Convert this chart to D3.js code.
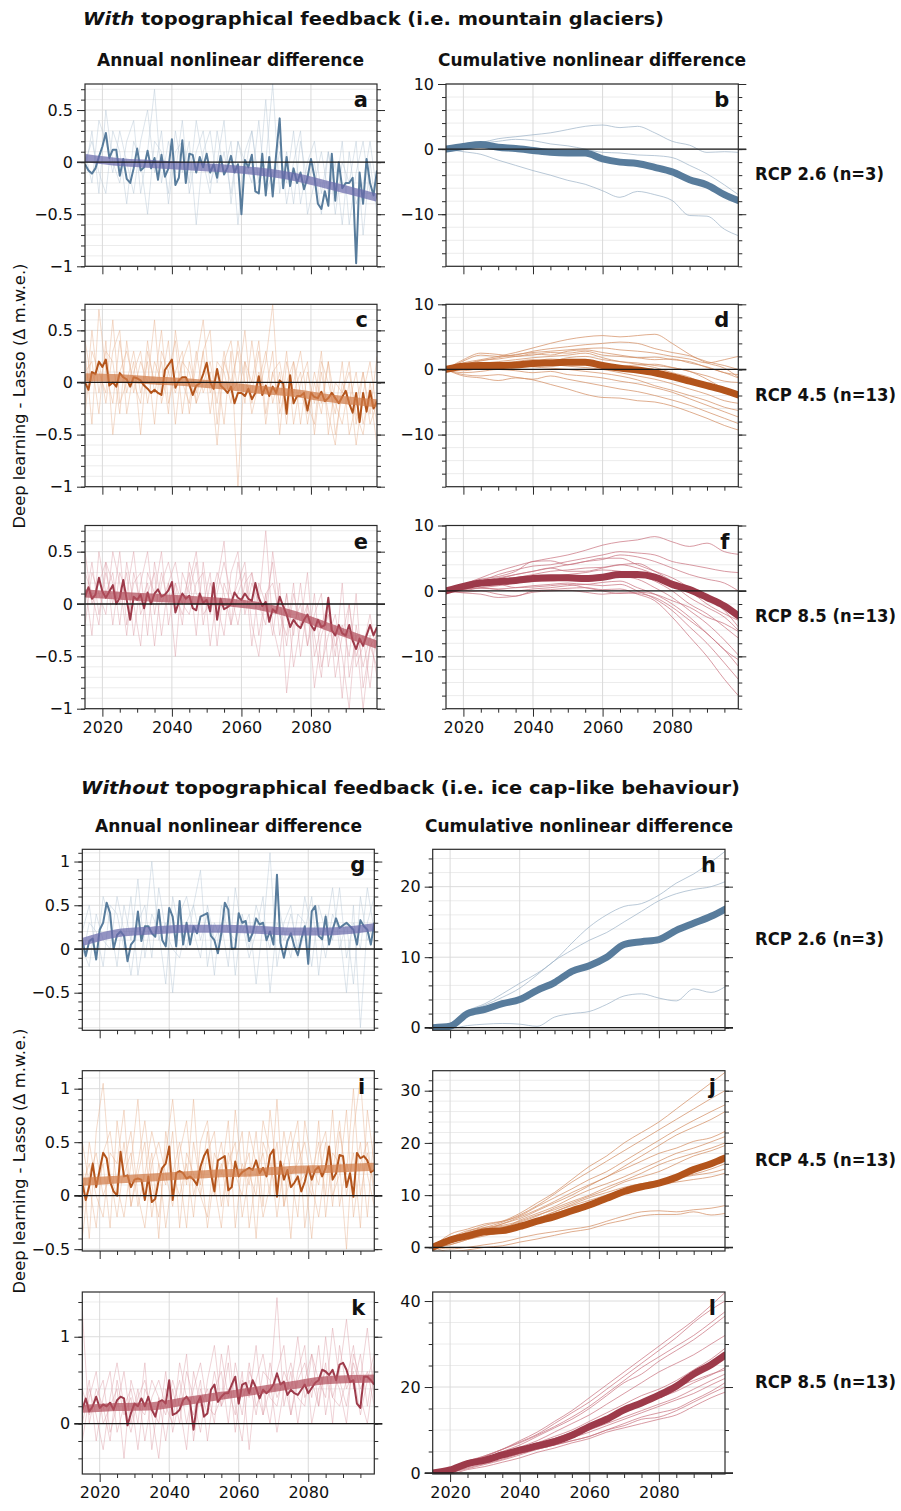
<!DOCTYPE html>
<html>
<head>
<meta charset="utf-8">
<script src="https://cdn.jsdelivr.net/npm/d3@7"></script>
<style>
  body { margin: 0; background: #fff; }
  text { font-family: "DejaVu Sans", "Liberation Sans", Arial, sans-serif; fill: #111; }
</style>
</head>
<body>
<div id="chart"></div>
<script>
// ---- years ----
const ANNUAL_YEARS = d3.range(2015, 2100)
const THIN_YEARS = d3.range(2015, 2100, 2)
const CUM_YEARS = [2015, 2020, 2025, 2030, 2035, 2040, 2045, 2050, 2055, 2060, 2065, 2070, 2075, 2080, 2085, 2090, 2095, 2099]
const TREND_YEARS = [2015, 2025, 2035, 2045, 2055, 2065, 2075, 2085, 2099]
const X_MAJOR = [2020, 2040, 2060, 2080]
const X_MINOR = [2025, 2030, 2035, 2045, 2050, 2055, 2065, 2070, 2075, 2085, 2090, 2095]

// ---- With topographical feedback: annual (ensemble mean, trend, members) ----
const aMain = [-0.02,-0.08,-0.11,-0.06,0.05,0.15,0.28,0.04,0.12,0.12,
  -0.13,0.03,-0.16,-0.2,-0.06,0.13,-0.08,-0.05,0.11,-0.06,
  0.04,-0.17,0.07,-0.14,-0.06,0.22,-0.22,-0.15,0.21,-0.2,
  0.08,0.07,-0.1,0.05,-0.05,0.08,-0.1,-0.02,-0.15,0.06,
  -0.12,-0.05,0.06,-0.1,-0.02,-0.5,0.02,-0.05,0.07,-0.28,
  -0.3,0.08,-0.32,0.05,-0.33,0.08,0.42,-0.25,0.05,-0.23,
  -0.06,-0.2,-0.1,-0.26,-0.15,0.03,-0.14,-0.4,-0.45,-0.28,
  -0.42,0.08,-0.37,0.0,-0.25,-0.2,-0.2,-0.15,-0.97,-0.1,
  -0.4,0.03,-0.2,-0.32,-0.08]
const aTrend = [0.04, 0.0, -0.02, -0.04, -0.06, -0.09, -0.14, -0.22, -0.34]
const aThin = [
  [0.1,-0.2,0.4,0.2,-0.1,0.3,0.0,-0.3,0.2,0.5,-0.1,0.3,-0.4,0.1,0.2,-0.2,0.4,0.0,-0.3,0.3,-0.1,0.2,-0.6,0.1,0.3,-0.2,0.0,0.75,-0.3,0.1,-0.4,0.2,-0.2,0.0,-0.5,0.1,-0.3,0.2,-0.6,-0.1,0.2,-0.3,-0.4],
  [-0.1,0.3,-0.3,0.5,0.0,-0.2,0.2,0.4,-0.3,0.1,0.7,-0.2,0.2,-0.1,0.4,-0.3,0.1,0.3,-0.2,0.0,0.4,-0.4,0.2,-0.1,0.3,-0.2,0.6,-0.3,0.1,-0.2,0.3,-0.4,0.0,0.2,-0.3,0.1,-0.5,0.0,-0.2,0.2,-0.7,0.0,-0.5],
  [0.0,0.2,-0.1,-0.3,0.3,0.1,-0.4,0.2,0.0,-0.5,0.2,0.1,-0.3,0.3,-0.1,0.2,-0.6,0.1,0.3,-0.2,0.1,-0.3,0.2,0.0,-0.2,0.4,-0.3,-0.1,0.2,-0.4,0.0,0.3,-0.5,-0.2,0.1,-0.3,0.0,-0.6,0.1,-0.4,-0.2,0.2,-0.3]
]

const cMain = [0.0,-0.07,0.1,0.08,0.2,0.15,0.22,-0.03,0.0,-0.04,
  0.09,0.05,0.03,-0.04,0.05,0.04,0.02,-0.03,-0.06,-0.1,
  -0.07,-0.1,-0.12,0.12,0.17,0.22,-0.05,0.02,0.05,0.05,
  -0.02,-0.12,-0.03,-0.01,0.08,0.19,0.0,-0.06,0.13,-0.03,
  -0.06,-0.1,-0.04,-0.2,-0.1,-0.1,-0.13,-0.06,-0.16,-0.1,
  0.06,-0.12,-0.03,-0.13,-0.04,-0.1,0.02,-0.01,-0.3,0.07,
  -0.2,-0.13,-0.13,-0.1,-0.27,-0.1,-0.14,-0.15,-0.09,-0.18,
  -0.15,-0.1,-0.15,-0.2,-0.14,-0.08,-0.2,-0.29,-0.1,-0.38,
  -0.1,-0.28,-0.08,-0.25,-0.18]
const cTrend = [0.05, 0.04, 0.02, 0.0, -0.03, -0.07, -0.1, -0.15, -0.2]
const cThin = [
  [0.3,-0.4,0.7,0.1,-0.2,0.4,-0.1,0.2,-0.5,0.3,0.0,0.5,-0.2,0.1,0.3,-0.3,0.2,0.6,-0.1,0.1,-0.4,0.3,-1.0,0.2,0.0,0.4,-0.3,0.1,-0.2,0.3,-0.4,0.0,0.2,-0.5,0.1,-0.3,-0.6,0.0,-0.2,0.1,-0.4,-0.1,-0.6],
  [-0.2,0.5,-0.1,0.3,0.2,-0.3,0.4,-0.1,0.2,0.0,0.6,-0.2,0.1,0.4,-0.3,0.2,-0.1,0.3,0.5,-0.4,0.2,0.0,0.3,-0.2,0.4,-0.1,0.2,0.75,-0.3,0.0,0.2,-0.4,0.1,-0.2,0.3,-0.5,0.0,-0.1,0.2,-0.4,0.1,-0.3,0.25],
  [0.1,0.2,-0.3,0.4,-0.5,0.1,0.3,0.0,-0.2,0.4,-0.1,0.2,-0.3,0.5,0.0,-0.2,0.3,-0.1,0.1,-0.6,0.2,0.4,-0.1,0.2,-0.3,0.0,0.3,-0.2,0.1,-0.4,0.2,-0.1,-0.3,0.1,-0.2,0.2,-0.5,-0.1,0.1,-0.3,-0.5,0.0,-0.4],
  [0.4,0.0,0.2,-0.2,0.3,0.5,-0.3,0.1,0.3,-0.2,0.2,0.0,0.4,-0.4,0.2,0.1,-0.2,0.3,-0.3,0.2,0.1,-0.2,0.4,0.0,-0.1,0.3,-0.4,0.1,0.2,-0.2,0.0,0.3,-0.2,-0.4,0.2,0.0,-0.3,0.2,-0.5,-0.2,0.1,-0.4,-0.2],
  [-0.3,0.3,0.1,-0.1,0.6,-0.2,0.0,0.3,-0.1,0.2,-0.4,0.3,0.1,-0.1,0.2,0.4,-0.2,0.0,0.2,-0.2,0.3,-0.1,0.0,0.5,-0.2,0.1,-0.1,0.3,-0.5,0.2,-0.1,0.1,-0.4,0.0,-0.3,0.2,-0.2,-0.4,0.0,-0.6,-0.1,0.2,-0.3]
]

const eMain = [0.07,0.16,0.05,0.09,0.25,0.12,0.06,0.12,0.18,0.0,
  0.06,0.23,0.04,-0.15,0.07,0.04,0.09,-0.04,0.11,0.0,
  0.1,0.14,0.07,0.09,0.13,0.21,-0.08,0.02,0.1,0.05,
  0.08,-0.04,-0.06,0.1,0.01,0.04,-0.07,0.2,-0.15,0.05,
  -0.05,-0.03,0.0,0.11,0.06,0.04,0.1,0.05,0.03,0.2,
  0.06,-0.02,0.02,-0.17,-0.05,-0.08,0.07,-0.02,-0.1,-0.22,
  -0.15,-0.2,-0.23,-0.15,-0.1,-0.2,-0.25,-0.15,-0.22,-0.2,
  0.06,-0.25,-0.3,-0.2,-0.28,-0.3,-0.2,-0.35,-0.43,-0.33,
  -0.4,-0.3,-0.2,-0.3,-0.22]
const eTrend = [0.1, 0.08, 0.06, 0.04, 0.02, -0.02, -0.1, -0.22, -0.39]
const eThin = [
  [0.2,-0.3,0.5,0.1,0.3,-0.2,0.4,0.0,-0.4,0.3,0.1,0.5,-0.2,0.2,0.0,0.3,-0.3,0.4,-0.1,0.2,0.6,-0.2,0.1,0.3,-0.4,0.2,0.0,0.4,-0.3,0.1,-0.6,-0.2,0.0,-0.8,-0.3,-0.1,-0.5,0.2,-0.7,-0.3,-1.0,-0.4,-0.6],
  [0.0,0.4,-0.1,0.3,0.0,0.5,-0.2,0.2,0.3,-0.3,0.4,0.0,0.2,-0.5,0.3,0.1,0.4,-0.2,0.2,0.0,-0.3,0.3,0.5,-0.1,0.2,0.0,0.7,-0.2,-0.5,0.1,-0.3,0.2,-0.4,-0.1,0.1,-0.6,-0.2,-0.9,0.0,-0.5,-0.3,-0.8,-0.2],
  [0.3,0.1,-0.2,0.4,0.2,0.0,0.3,-0.3,0.2,0.5,-0.1,0.3,0.0,0.2,-0.2,0.4,0.1,0.0,0.3,-0.4,0.2,0.0,0.2,0.4,-0.2,-0.5,0.1,-0.3,0.2,-0.85,-0.2,0.0,-0.4,0.1,-0.6,-0.3,-0.1,-0.5,-1.0,-0.2,-0.6,-0.3,-0.7],
  [-0.2,0.3,0.1,-0.1,0.5,0.2,-0.3,0.3,0.0,0.2,-0.4,0.2,0.4,0.1,-0.1,0.2,0.5,-0.1,0.0,0.3,0.1,-0.2,0.4,0.0,0.3,-0.3,0.1,0.2,-0.1,-0.3,0.2,-0.5,0.0,-0.3,-0.7,0.0,-0.4,-0.2,-0.5,0.1,-0.8,-0.4,-0.3],
  [0.5,0.0,0.2,0.4,-0.2,0.3,0.1,0.5,-0.1,0.1,0.3,-0.3,0.2,0.4,0.0,-0.1,0.2,0.3,-0.4,0.1,0.4,0.1,-0.2,0.2,0.3,0.0,-0.2,0.5,0.0,-0.4,0.1,-0.2,0.3,-0.5,-0.2,0.0,-0.7,-0.3,0.0,-0.6,-0.4,-0.1,-0.5]
]

// ---- With topographical feedback: cumulative ----
const bMain = [0, 0.4, 0.7, 0.3, 0.1, -0.2, -0.5, -0.6, -0.6, -1.5, -2.0, -2.2, -2.8, -3.5, -4.7, -5.5, -7.0, -7.9]
const bThin = [
  [0, 0.8, 1.0, 1.6, 1.9, 2.2, 2.5, 3.0, 3.5, 3.7, 3.3, 3.5, 2.5, 1.2, 0.6, -0.5, -0.4, -0.5],
  [0, 0.6, 0.9, 1.2, 1.5, 1.3, 0.8, 0.5, 0.0, -0.5, -0.6, -0.9, -1.0, -1.3, -2.5, -3.8, -5.5, -7.0],
  [0, -0.4, -0.8, -1.7, -2.5, -3.3, -4.0, -4.8, -5.4, -6.4, -7.4, -6.5, -7.0, -7.9, -10.2, -10.3, -12.3, -13.3]
]
const dMain = [0, 0.5, 0.6, 0.6, 0.7, 0.9, 1.0, 1.1, 1.1, 0.6, 0.2, -0.1, -0.5, -1.1, -1.8, -2.5, -3.2, -3.9]
const dThin = [
  [0, 1.0, 1.5, 2.0, 2.6, 3.3, 4.0, 4.6, 5.0, 5.2, 5.0, 5.2, 5.4, 4.0, 2.3, 1.0, 0.2, -1.2],
  [0, 1.3, 2.2, 2.0, 2.2, 2.8, 3.2, 3.5, 3.8, 4.0, 4.2, 4.0, 3.2, 2.6, 2.1, 1.2, 0.6, 0.0],
  [0, 0.8, 1.3, 1.8, 2.3, 2.6, 2.8, 3.0, 3.2, 3.3, 3.0, 2.8, 2.5, 2.0, 1.6, 1.0, 1.5, 2.0],
  [0, 0.6, 1.4, 1.6, 2.0, 2.2, 2.6, 2.5, 2.8, 2.2, 2.0, 1.8, 1.9, 1.5, 1.2, 0.3, -0.5, -1.3],
  [0, 0.4, 0.9, 1.2, 1.5, 1.8, 2.0, 2.2, 2.5, 1.8, 1.2, 1.0, 0.6, 0.3, -0.3, -1.0, -1.8, -2.0],
  [0, 0.2, 0.6, 0.8, 1.2, 1.5, 1.3, 1.8, 2.0, 1.5, 1.2, 0.8, 0.3, -0.5, -1.2, -2.5, -3.5, -4.3],
  [0, 0.3, 0.5, 0.8, 1.0, 1.0, 0.8, 0.5, 0.3, 0.0, -0.5, -1.0, -1.5, -2.2, -3.0, -3.8, -4.8, -5.2],
  [0, -0.2, 0.2, 0.5, 0.8, 0.4, 0.2, 0.0, -0.3, -0.6, -1.0, -1.6, -2.5, -3.2, -4.0, -4.8, -5.8, -6.3],
  [0, -0.5, -0.3, 0.0, -0.2, -0.5, -0.3, -0.8, -1.0, -1.3, -1.8, -2.2, -2.8, -3.5, -4.5, -5.5, -6.5, -7.3],
  [0, -0.8, -1.0, -0.8, -1.2, -1.5, -1.0, -1.5, -2.0, -2.5, -3.0, -3.4, -4.0, -4.7, -5.5, -6.5, -7.5, -8.3],
  [0, -1.0, -1.3, -1.7, -1.3, -1.6, -2.3, -3.0, -3.8, -4.3, -4.4, -4.8, -5.0, -5.6, -6.5, -7.5, -8.6, -9.3],
  [0, 0.5, 0.8, 1.0, 0.8, 1.2, 1.6, 1.4, 1.0, 0.8, 0.5, 0.7, 0.8, 0.3, -0.3, -1.5, -3.0, -4.0],
  [0, 1.5, 2.5, 2.3, 2.0, 2.4, 2.2, 2.8, 3.0, 2.6, 2.2, 1.8, 1.5, 1.6, 1.0, 0.4, -0.5, -0.8]
]
const fMain = [0, 0.7, 1.2, 1.4, 1.6, 1.9, 2.0, 2.0, 1.9, 2.1, 2.5, 2.5, 2.1, 1.0, 0.2, -1.0, -2.3, -3.8]
const fThin = [
  [0, 1.0, 2.0, 3.0, 3.8, 4.5, 5.0, 5.5, 6.2, 7.0, 7.5, 7.8, 8.3, 7.5, 6.8, 7.3, 6.0, 5.6],
  [0, 0.8, 1.5, 2.5, 3.2, 3.8, 4.0, 4.5, 5.0, 5.5, 6.0, 5.8, 5.5, 4.5, 4.0, 3.5, 3.0, 2.8],
  [0, 1.0, 1.8, 2.2, 3.0, 4.5, 4.6, 4.0, 4.5, 4.8, 5.5, 5.2, 4.5, 3.5, 2.5, 1.8, 1.2, 0.0],
  [0, 0.5, 1.0, 1.8, 2.5, 3.0, 3.5, 4.0, 4.5, 5.0, 5.0, 4.0, 3.0, 2.0, 0.5, -1.0, -3.0, -5.5],
  [0, 0.6, 1.2, 1.5, 2.0, 2.5, 3.0, 3.2, 3.5, 3.6, 4.0, 3.5, 2.5, 1.0, -1.0, -2.5, -4.0, -6.0],
  [0, 0.4, 0.8, 1.2, 1.5, 2.0, 2.2, 2.5, 2.8, 3.2, 3.0, 2.5, 1.5, 0.0, -2.0, -3.5, -5.5, -7.2],
  [0, 0.3, 0.5, 0.8, 1.2, 1.5, 1.5, 1.8, 2.0, 2.0, 2.2, 1.8, 0.5, -1.0, -3.0, -5.0, -7.5, -9.8],
  [0, 0.2, 0.4, 0.3, 0.5, 0.8, 1.0, 1.2, 1.0, 1.3, 1.5, 0.5, -0.5, -2.0, -4.0, -6.5, -9.0, -11.5],
  [0, 0.0, 0.5, 0.2, 0.0, 0.3, 0.5, 0.8, 1.0, 0.8, 1.0, 0.0, -1.2, -3.0, -5.5, -8.0, -11.0, -13.5],
  [0, -0.2, 0.0, -0.5, -0.8, 0.0, 0.2, 0.4, 0.5, 0.2, 0.3, -0.5, -1.5, -4.0, -7.0, -10.0, -13.5, -16.0],
  [0, 0.5, 0.8, 1.0, 0.5, 0.6, 0.8, 1.0, 0.5, 0.0, -0.4, -0.2, -0.5, -1.5, -2.5, -4.0, -5.0, -6.2],
  [0, 0.8, 1.5, 2.0, 2.5, 3.0, 3.5, 3.0, 3.0, 3.5, 4.0, 4.2, 3.0, 1.5, 0.0, -2.0, -3.5, -4.5],
  [0, -0.3, -0.5, -1.0, -0.8, -0.2, 0.0, 0.1, -0.2, -0.5, -0.3, -0.4, -1.0, -2.5, -4.5, -6.5, -9.0, -10.5]
]

// ---- Without topographical feedback: annual ----
const gMain = [0.1,-0.08,0.09,0.12,-0.12,0.22,0.3,0.53,0.41,0.0,
  0.16,0.2,0.15,-0.14,0.05,0.1,0.43,0.09,0.26,0.26,
  0.18,0.14,0.45,0.1,0.03,0.47,0.37,0.03,0.55,0.05,
  0.3,0.05,0.26,0.18,0.37,0.39,0.41,0.15,0.1,-0.05,
  0.18,0.53,0.45,0.0,0.01,0.41,0.3,0.32,0.09,0.18,
  0.35,0.28,0.3,0.1,0.2,0.05,0.85,0.07,-0.1,0.09,
  0.18,0.03,-0.07,0.11,0.26,-0.17,0.43,0.49,0.15,0.11,
  0.37,0.05,0.22,0.35,0.24,0.27,0.3,0.26,0.22,0.05,
  0.33,0.26,0.22,0.05,0.3]
const gTrend = [0.08, 0.18, 0.21, 0.23, 0.23, 0.22, 0.2, 0.2, 0.25]
const gThin = [
  [0.2,0.5,-0.1,0.6,0.3,-0.2,0.5,0.1,0.8,-0.1,0.4,0.2,-0.4,0.6,0.2,0.0,0.5,0.9,-0.2,0.3,0.1,0.6,-0.3,0.4,0.0,0.5,0.2,1.1,-0.2,0.3,0.5,-0.1,0.2,0.6,-0.3,0.4,0.1,0.7,-0.1,0.3,0.0,0.7,0.2],
  [-0.1,0.3,0.2,-0.2,0.5,0.4,0.0,0.6,-0.3,0.2,1.0,0.1,0.3,-0.5,0.4,0.6,0.2,-0.1,0.5,0.1,0.3,-0.2,0.7,0.2,0.4,-0.4,0.3,0.0,0.6,0.2,-0.1,0.4,0.3,-0.2,0.5,0.2,0.7,0.0,0.3,-0.4,0.6,0.1,0.3],
  [0.0,-0.2,0.4,0.1,0.0,0.6,0.2,-0.3,0.3,0.5,-0.1,0.7,0.2,0.0,-0.1,0.3,0.5,0.1,0.4,-0.3,0.5,0.2,0.1,0.3,-0.1,0.2,0.6,-0.5,0.3,0.1,0.4,0.0,0.6,0.2,0.3,-0.1,0.4,0.2,-0.5,0.5,-0.9,0.3,0.6]
]

const iMain = [0.12,-0.04,0.09,0.3,0.08,0.24,0.4,0.35,0.13,0.04,
  0.0,0.41,0.18,0.19,0.08,0.15,0.16,0.15,-0.04,0.18,
  -0.06,-0.03,0.15,0.26,0.3,0.46,-0.04,0.21,0.23,0.21,
  0.16,0.18,0.15,0.1,0.27,0.37,0.43,0.21,0.04,0.33,
  0.35,0.37,0.05,0.08,0.32,0.18,0.22,0.24,0.26,0.24,
  0.33,0.21,0.26,0.18,0.38,0.43,-0.01,0.32,0.15,0.24,
  0.08,0.12,0.18,0.04,0.13,0.27,0.15,0.24,0.27,0.18,
  0.26,0.46,0.15,0.21,0.38,0.37,0.08,0.21,-0.01,0.4,
  0.35,0.37,0.33,0.22,0.24]
const iTrend = [0.13, 0.15, 0.17, 0.19, 0.21, 0.22, 0.24, 0.25, 0.27]
const iThin = [
  [0.3,-0.4,0.6,1.05,0.2,0.0,0.5,-0.1,0.3,0.7,0.1,-0.2,0.4,0.9,0.2,-0.3,0.5,0.1,0.6,0.0,0.3,-0.1,0.8,0.2,0.4,-0.4,0.5,0.3,0.0,0.6,0.2,-0.2,0.7,0.3,0.1,0.5,-0.1,0.6,0.2,1.0,0.0,0.4,0.1],
  [-0.2,0.5,0.1,0.3,-0.3,0.7,0.2,0.4,-0.1,0.2,0.6,0.3,-0.3,0.2,0.5,0.1,0.9,0.0,-0.2,0.4,0.2,0.7,-0.3,0.3,0.1,0.6,-0.1,0.8,0.2,0.3,-0.4,0.5,0.2,0.0,0.7,-0.2,0.4,0.3,-0.5,0.6,1.1,0.2,-0.1],
  [0.5,0.1,-0.3,0.4,0.6,0.1,-0.2,0.3,0.9,0.0,0.4,-0.4,0.6,0.2,0.0,0.3,-0.2,0.5,0.7,0.1,-0.3,0.4,0.2,0.0,0.6,0.3,-0.2,0.1,0.5,-0.1,0.4,0.7,-0.3,0.2,0.5,0.0,0.8,-0.1,0.3,0.1,0.5,-0.2,0.6],
  [0.1,0.3,0.0,-0.2,0.4,0.3,0.8,-0.1,0.2,0.5,-0.2,0.3,0.1,0.6,-0.3,0.4,0.2,0.0,0.4,0.6,-0.1,0.3,0.5,-0.2,0.2,0.0,0.7,0.4,-0.2,0.3,0.6,0.1,0.2,-0.4,0.4,0.6,0.0,0.2,0.8,-0.2,0.3,0.5,0.0],
  [-0.4,0.2,0.4,0.0,0.2,-0.2,0.3,0.6,0.0,-0.3,0.3,0.5,0.2,-0.1,0.4,0.7,0.0,0.3,-0.3,0.2,0.5,0.0,0.3,0.6,-0.3,0.2,0.4,0.0,0.9,-0.1,0.2,0.3,0.5,0.1,-0.2,0.3,0.2,0.7,0.0,0.4,-0.3,0.8,0.3]
]

const kMain = [0.16,0.29,0.14,0.2,0.31,0.18,0.22,0.2,0.24,0.16,
  0.27,0.31,0.29,-0.02,0.12,0.23,0.2,0.29,0.2,0.31,
  0.16,0.08,0.25,0.27,0.23,0.5,0.1,0.12,0.16,0.27,
  0.31,0.25,-0.07,0.23,0.31,0.08,0.12,0.39,0.45,0.25,
  0.31,0.35,0.35,0.45,0.54,0.23,0.45,0.47,0.35,0.5,
  0.41,0.29,0.39,0.35,0.39,0.45,0.58,0.45,0.48,0.33,
  0.39,0.35,0.33,0.39,0.45,0.35,0.41,0.47,0.5,0.62,
  0.6,0.56,0.62,0.5,0.68,0.7,0.62,0.48,0.5,0.23,
  0.18,0.54,0.54,0.5,0.45]
const kTrend = [0.17, 0.19, 0.2, 0.26, 0.32, 0.38, 0.44, 0.5, 0.52]
const kThin = [
  [1.3,0.0,0.4,0.2,-0.2,0.5,0.1,0.3,-0.3,0.4,0.2,0.0,0.6,-0.1,0.3,0.8,-0.2,0.4,0.1,0.6,0.2,0.7,-0.1,0.5,0.3,0.9,0.1,0.4,1.45,0.2,0.6,0.0,0.5,0.8,0.2,1.0,0.3,0.6,1.2,0.4,0.8,0.2,0.7],
  [0.1,0.5,-0.2,0.3,0.6,-0.1,0.2,0.4,0.0,0.7,-0.3,0.3,0.1,0.5,0.2,-0.3,0.6,0.2,0.4,0.0,0.8,0.3,0.5,0.1,0.7,0.2,0.4,0.0,0.6,0.9,0.1,0.5,0.7,0.3,0.9,0.1,0.6,0.4,0.0,0.8,0.5,1.1,0.3],
  [-0.2,0.3,0.6,0.0,0.2,0.4,-0.4,0.5,0.2,0.1,0.5,0.3,-0.2,0.4,0.0,0.6,0.3,-0.1,0.5,0.9,0.2,0.4,0.1,0.6,-0.3,0.5,0.8,0.3,0.2,0.6,0.4,1.0,0.3,0.5,0.2,0.7,0.0,0.9,0.4,0.6,0.1,0.5,0.8],
  [0.4,0.1,0.3,0.5,-0.1,0.2,0.6,0.0,0.4,-0.2,0.3,0.5,0.2,0.0,0.7,0.3,0.1,0.5,-0.2,0.4,0.6,0.0,0.7,0.3,0.5,0.1,0.6,0.5,-0.1,0.4,0.7,0.3,0.2,0.8,0.5,0.3,1.1,0.5,0.2,0.7,0.4,0.6,0.2],
  [0.0,0.4,0.1,-0.3,0.3,0.7,0.2,-0.1,0.3,0.5,0.1,-0.4,0.4,0.2,0.5,0.0,0.4,0.7,0.2,0.1,0.3,0.9,0.2,-0.2,0.6,0.4,0.1,0.7,0.3,0.5,0.1,0.6,0.9,0.0,0.4,0.6,0.3,0.2,0.5,0.9,0.3,0.0,0.6]
]

// ---- Without topographical feedback: cumulative ----
const hMain = [0, 0.2, 2.0, 2.6, 3.4, 4.0, 5.3, 6.4, 8.0, 8.8, 10.0, 11.8, 12.2, 12.5, 13.8, 14.8, 15.8, 16.8]
const hThin = [
  [0, 0.6, 2.4, 3.4, 4.8, 6.3, 7.7, 9.5, 12.0, 14.3, 16.0, 17.2, 17.6, 18.8, 20.5, 21.8, 23.5, 25.0],
  [0, 0.6, 2.3, 3.2, 4.3, 5.6, 7.5, 9.5, 11.0, 12.4, 13.5, 15.0, 16.5, 18.0, 19.0, 19.6, 20.0, 20.7],
  [0, -0.1, 0.3, 0.5, 0.6, 0.5, 0.2, 1.5, 2.0, 2.3, 3.3, 4.5, 4.8, 4.2, 3.8, 5.5, 5.0, 5.8]
]
const jMain = [0, 1.4, 2.2, 3.0, 3.2, 4.0, 5.0, 5.9, 7.0, 8.1, 9.4, 10.7, 11.6, 12.3, 13.4, 14.9, 16.0, 17.1]
const jThin = [
  [0, 1.5, 3.0, 4.2, 5.0, 6.5, 8.5, 10.5, 13.0, 15.5, 17.5, 20.0, 22.0, 24.0, 26.5, 29.0, 31.5, 33.5],
  [0, 1.2, 2.8, 3.8, 4.8, 6.2, 8.0, 10.2, 12.5, 14.5, 16.5, 18.5, 20.5, 22.5, 24.5, 26.5, 28.5, 30.0],
  [0, 2.5, 3.5, 4.5, 5.0, 6.0, 7.8, 9.5, 11.2, 13.0, 14.5, 16.5, 18.5, 20.5, 22.5, 24.3, 26.0, 27.3],
  [0, 1.0, 2.3, 3.5, 4.5, 5.8, 7.2, 8.8, 10.5, 12.0, 13.5, 15.5, 17.5, 19.5, 21.5, 23.0, 24.5, 26.0],
  [0, 0.8, 2.0, 3.2, 4.5, 5.5, 7.0, 8.5, 10.0, 11.8, 13.5, 15.0, 16.5, 18.0, 19.0, 20.3, 21.0, 22.2],
  [0, 1.3, 2.5, 3.0, 3.5, 5.2, 6.5, 7.8, 9.5, 11.0, 12.2, 13.5, 15.0, 16.5, 18.0, 19.0, 20.2, 21.2],
  [0, 0.5, 1.5, 2.5, 3.8, 4.8, 6.0, 7.5, 8.8, 10.0, 11.5, 12.8, 14.2, 15.8, 17.0, 18.0, 19.0, 20.0],
  [0, 1.8, 3.2, 3.8, 4.2, 5.0, 6.2, 7.2, 8.5, 9.8, 11.0, 12.5, 13.5, 14.5, 16.0, 17.5, 18.5, 19.5],
  [0, 1.0, 2.0, 2.8, 3.5, 4.5, 5.2, 6.5, 7.5, 8.5, 9.8, 11.0, 11.8, 12.5, 13.3, 14.0, 15.0, 16.0],
  [0, 0.5, 1.5, 2.2, 3.0, 4.0, 5.5, 6.8, 8.2, 9.5, 10.5, 11.5, 12.2, 12.8, 13.2, 13.8, 14.3, 15.0],
  [0, 1.5, 2.8, 3.5, 4.0, 4.5, 5.5, 6.8, 8.0, 9.0, 10.0, 10.8, 11.5, 12.0, 12.5, 13.0, 13.5, 14.2],
  [0, -0.3, 0.0, 0.5, 1.0, 1.8, 2.5, 3.0, 3.5, 4.0, 5.0, 6.0, 6.8, 7.0, 6.8, 7.2, 7.5, 8.0],
  [0, -0.8, -0.5, 0.0, 0.3, 1.0, 1.6, 2.3, 3.0, 3.5, 4.5, 5.2, 6.0, 6.3, 6.3, 6.8, 6.2, 6.5]
]
const lMain = [0, 0.7, 2.2, 3.0, 4.2, 5.3, 6.3, 7.3, 8.8, 10.8, 12.5, 14.7, 16.3, 18.1, 20.2, 23.0, 25.2, 27.4]
const lThin = [
  [0, 1.0, 2.5, 4.0, 5.5, 7.5, 9.5, 12.0, 14.5, 17.5, 20.5, 23.5, 26.5, 29.5, 32.5, 35.5, 39.0, 42.0],
  [0, 0.8, 2.2, 3.8, 5.5, 7.2, 9.0, 11.5, 14.0, 16.5, 19.5, 22.5, 25.5, 28.5, 31.5, 35.0, 38.0, 40.0],
  [0, 1.2, 2.8, 4.0, 5.5, 7.0, 8.8, 10.8, 13.0, 15.5, 18.5, 21.5, 24.5, 27.0, 29.5, 32.0, 35.0, 37.5],
  [0, 0.6, 2.0, 3.5, 5.0, 6.5, 8.5, 10.5, 12.5, 15.0, 18.0, 21.0, 23.0, 26.0, 28.5, 31.0, 34.0, 36.5],
  [0, 0.5, 1.8, 3.2, 4.5, 6.0, 7.5, 9.5, 11.5, 13.5, 16.0, 18.5, 21.0, 23.5, 25.5, 27.5, 30.0, 32.0],
  [0, 1.0, 2.0, 3.0, 4.2, 5.5, 7.0, 8.5, 10.0, 12.0, 14.0, 16.0, 18.0, 19.5, 21.5, 24.0, 26.5, 29.0],
  [0, 0.4, 1.5, 2.5, 3.8, 5.0, 6.5, 8.0, 9.5, 11.0, 12.5, 14.5, 16.0, 17.5, 19.0, 21.0, 22.8, 24.5],
  [0, 0.8, 1.8, 2.8, 4.0, 5.0, 6.0, 7.0, 8.5, 10.0, 11.5, 13.0, 14.5, 16.0, 17.5, 19.5, 21.5, 23.0],
  [0, 0.3, 1.2, 2.2, 3.2, 4.5, 5.8, 7.0, 8.2, 9.5, 11.0, 12.5, 14.0, 15.5, 17.0, 18.5, 20.5, 22.0],
  [0, 0.6, 1.5, 2.8, 3.5, 4.5, 5.5, 6.5, 7.5, 8.5, 10.0, 11.5, 13.0, 14.0, 15.0, 17.0, 19.0, 21.0],
  [0, 0.2, 1.0, 2.0, 3.0, 4.2, 5.5, 6.5, 7.5, 8.5, 10.0, 11.0, 12.5, 13.0, 14.5, 16.5, 18.5, 20.0],
  [0, 0.9, 2.2, 3.5, 4.8, 5.8, 7.0, 8.0, 9.0, 10.5, 12.0, 14.0, 16.0, 18.0, 20.0, 21.5, 23.0, 24.0],
  [0, -0.2, 0.8, 1.5, 2.5, 3.5, 4.8, 5.8, 7.0, 8.0, 9.5, 10.5, 11.5, 12.5, 13.5, 15.5, 17.5, 18.8]
]

const ROW_LABELS = ["RCP 2.6 (n=3)", "RCP 4.5 (n=13)", "RCP 8.5 (n=13)"]

const COLORS = {
  rcp26: { main: "#587c9c", trend: "#6a6aaa", thin: "#b3c4d5", cumThin: "#9db2c7" },
  rcp45: { main: "#b3541b", trend: "#d07c48", thin: "#e6ae8a", cumThin: "#d38d62" },
  rcp85: { main: "#9d3a4a", trend: "#b24f5d", thin: "#dc9ca5", cumThin: "#c9727f" }
}

const W = 901, H = 1511
const svg = d3.select("#chart").append("svg")
  .attr("width", W).attr("height", H)
  .style("background", "#fff")

// layout
const TOP = { ann: [85, 377], cum: [446, 738.3], rows: [[84, 266.3], [304.3, 486.7], [525.5, 708.7]] }
const BOT = { ann: [82.3, 374.3], cum: [432.7, 725], rows: [[849.3, 1030.3], [1070.7, 1251], [1292, 1474]] }
const rcps = ["rcp26", "rcp45", "rcp85"]

const panels = [
  { letter: "a", kind: "ann", sec: TOP, row: 0, main: aMain, trend: aTrend, thin: aThin, dom: [-1, 0.75], major: [-1, -0.5, 0, 0.5], minor: [-1, 0.7, 0.1] },
  { letter: "c", kind: "ann", sec: TOP, row: 1, main: cMain, trend: cTrend, thin: cThin, dom: [-1, 0.75], major: [-1, -0.5, 0, 0.5], minor: [-1, 0.7, 0.1] },
  { letter: "e", kind: "ann", sec: TOP, row: 2, main: eMain, trend: eTrend, thin: eThin, dom: [-1, 0.75], major: [-1, -0.5, 0, 0.5], minor: [-1, 0.7, 0.1] },
  { letter: "b", kind: "cum", sec: TOP, row: 0, main: bMain, thin: bThin, dom: [-18, 10], major: [-10, 0, 10], minor: [-18, 10, 2] },
  { letter: "d", kind: "cum", sec: TOP, row: 1, main: dMain, thin: dThin, dom: [-18, 10], major: [-10, 0, 10], minor: [-18, 10, 2] },
  { letter: "f", kind: "cum", sec: TOP, row: 2, main: fMain, thin: fThin, dom: [-18, 10], major: [-10, 0, 10], minor: [-18, 10, 2] },
  { letter: "g", kind: "ann", sec: BOT, row: 0, main: gMain, trend: gTrend, thin: gThin, dom: [-0.93, 1.14], major: [-0.5, 0, 0.5, 1], minor: [-0.9, 1.1, 0.1] },
  { letter: "i", kind: "ann", sec: BOT, row: 1, main: iMain, trend: iTrend, thin: iThin, dom: [-0.517, 1.168], major: [-0.5, 0, 0.5, 1], minor: [-0.5, 1.1, 0.1] },
  { letter: "k", kind: "ann", sec: BOT, row: 2, main: kMain, trend: kTrend, thin: kThin, dom: [-0.58, 1.515], major: [0, 1], minor: [-0.4, 1.4, 0.2] },
  { letter: "h", kind: "cum", sec: BOT, row: 0, main: hMain, thin: hThin, dom: [-0.37, 25.3], major: [0, 10, 20], minor: [0, 24, 2] },
  { letter: "j", kind: "cum", sec: BOT, row: 1, main: jMain, thin: jThin, dom: [-0.7, 33.83], major: [0, 10, 20, 30], minor: [0, 32, 2] },
  { letter: "l", kind: "cum", sec: BOT, row: 2, main: lMain, thin: lThin, dom: [-0.23, 42.1], major: [0, 20, 40], minor: [0, 40, 5] }
]

const zip = (years, vals) => vals.map((v, i) => [years[i], v]).filter(d => d[0] !== undefined)
const fmt = d3.format("~g")

function styleAxis(sel) {
  sel.select(".domain").remove()
  sel.selectAll(".tick line").attr("stroke", "#2b2b2b")
  sel.selectAll("text")
    .attr("font-size", 16)
    .attr("fill", "#111")
    .style("font-family", "\"DejaVu Sans\", Arial, sans-serif")
}

function drawPanel(p) {
  const [x0, x1] = p.sec[p.kind]
  const [y0, y1] = p.sec.rows[p.row]
  const c = COLORS[rcps[p.row]]
  const x = d3.scaleLinear().domain([2015, 2099]).range([x0, x1])
  const y = d3.scaleLinear().domain(p.dom).range([y1, y0])
  const minor = d3.range(p.minor[0], p.minor[1] + p.minor[2] / 2, p.minor[2]).map(v => +v.toFixed(3))
  const g = svg.append("g")

  // grid
  g.append("g").selectAll("line").data(minor).join("line")
    .attr("x1", x0).attr("x2", x1)
    .attr("y1", d => y(d)).attr("y2", d => y(d))
    .attr("stroke", d => p.major.includes(d) ? "#dcdcdc" : "#ececec")
  g.append("g").selectAll("line").data(X_MAJOR).join("line")
    .attr("x1", d => x(d)).attr("x2", d => x(d))
    .attr("y1", y0).attr("y2", y1)
    .attr("stroke", "#dadada")

  svg.append("clipPath").attr("id", "clip-" + p.letter)
    .append("rect").attr("x", x0).attr("y", y0).attr("width", x1 - x0).attr("height", y1 - y0)
  const plot = g.append("g").attr("clip-path", `url(#clip-${p.letter})`)
  const line = d3.line().x(d => x(d[0])).y(d => y(d[1]))
  const smooth = d3.line().x(d => x(d[0])).y(d => y(d[1])).curve(d3.curveMonotoneX)

  // members
  plot.append("g").selectAll("path").data(p.thin).join("path")
    .attr("d", v => (p.kind === "ann" ? line : smooth)(zip(p.kind === "ann" ? THIN_YEARS : CUM_YEARS, v)))
    .attr("fill", "none")
    .attr("stroke", p.kind === "ann" ? c.thin : c.cumThin)
    .attr("stroke-width", p.kind === "ann" ? 0.6 : 0.8)
    .attr("stroke-opacity", p.kind === "ann" ? 0.75 : 0.9)

  // zero line
  g.append("line")
    .attr("x1", x0 - 8).attr("x2", x1 + 8)
    .attr("y1", y(0)).attr("y2", y(0))
    .attr("stroke", "#1a1a1a").attr("stroke-width", 1.3)

  if (p.kind === "ann") {
    plot.append("path")
      .attr("d", line(zip(ANNUAL_YEARS, p.main)))
      .attr("fill", "none").attr("stroke", c.main).attr("stroke-width", 2)
      .attr("stroke-linejoin", "round")
    plot.append("path")
      .attr("d", smooth(zip(TREND_YEARS, p.trend)))
      .attr("fill", "none").attr("stroke", c.trend).attr("stroke-width", 8)
      .attr("stroke-opacity", 0.72)
  } else {
    plot.append("path")
      .attr("d", smooth(zip(CUM_YEARS, p.main)))
      .attr("fill", "none").attr("stroke", c.main).attr("stroke-width", 7)
      .attr("stroke-linejoin", "round").attr("stroke-linecap", "round")
  }

  // frame
  g.append("rect")
    .attr("x", x0).attr("y", y0).attr("width", x1 - x0).attr("height", y1 - y0)
    .attr("fill", "none").attr("stroke", "#2b2b2b").attr("stroke-width", 1.2)

  // left axis
  g.append("g").attr("transform", `translate(${x0},0)`)
    .call(d3.axisLeft(y).tickValues(minor).tickSize(4).tickFormat(""))
    .call(styleAxis)
  g.append("g").attr("transform", `translate(${x0},0)`)
    .call(d3.axisLeft(y).tickValues(p.major).tickSize(8).tickPadding(4).tickFormat(fmt))
    .call(styleAxis)
  // right axis
  g.append("g").attr("transform", `translate(${x1},0)`)
    .call(d3.axisRight(y).tickValues(minor).tickSize(4).tickFormat(""))
    .call(styleAxis)
  g.append("g").attr("transform", `translate(${x1},0)`)
    .call(d3.axisRight(y).tickValues(p.major).tickSize(8).tickFormat(""))
    .call(styleAxis)
  // bottom axis
  g.append("g").attr("transform", `translate(0,${y1})`)
    .call(d3.axisBottom(x).tickValues(X_MINOR).tickSize(4).tickFormat(""))
    .call(styleAxis)
  g.append("g").attr("transform", `translate(0,${y1})`)
    .call(d3.axisBottom(x).tickValues(X_MAJOR).tickSize(8).tickPadding(5)
      .tickFormat(p.row === 2 ? d3.format("d") : ""))
    .call(styleAxis)

  // panel letter
  g.append("text")
    .attr("x", x1 - 9).attr("y", y0 + 23)
    .attr("text-anchor", "end")
    .attr("font-size", 21).attr("font-weight", "bold")
    .text(p.letter)
}

panels.forEach(drawPanel)

// titles
function title(yPos, cx, italicWord, rest, len) {
  const t = svg.append("text")
    .attr("x", cx).attr("y", yPos)
    .attr("text-anchor", "middle")
    .attr("font-size", 18).attr("font-weight", "bold")
    .attr("textLength", len).attr("lengthAdjust", "spacingAndGlyphs")
  t.append("tspan").attr("font-style", "italic").text(italicWord)
  t.append("tspan").text(" " + rest)
}
title(25, 373.5, "With", "topographical feedback (i.e. mountain glaciers)", 581)
title(794, 410.5, "Without", "topographical feedback (i.e. ice cap-like behaviour)", 659)

function header(yPos, cx, label, len) {
  svg.append("text")
    .attr("x", cx).attr("y", yPos)
    .attr("text-anchor", "middle")
    .attr("font-size", 17).attr("font-weight", "bold")
    .attr("textLength", len).attr("lengthAdjust", "spacingAndGlyphs")
    .text(label)
}
header(66, 230.5, "Annual nonlinear difference", 267)
header(66, 592, "Cumulative nonlinear difference", 308)
header(832, 228.5, "Annual nonlinear difference", 267)
header(832, 579, "Cumulative nonlinear difference", 308)

// row labels
;[TOP, BOT].forEach(sec => {
  sec.rows.forEach((r, i) => {
    svg.append("text")
      .attr("x", 755).attr("y", (r[0] + r[1]) / 2 + 5)
      .attr("font-size", 17).attr("font-weight", "bold")
      .attr("textLength", i === 0 ? 129 : 141).attr("lengthAdjust", "spacingAndGlyphs")
      .text(ROW_LABELS[i])
  })
})

// y axis labels
;[396, 1161].forEach(cy => {
  svg.append("text")
    .attr("transform", `translate(25,${cy}) rotate(-90)`)
    .attr("text-anchor", "middle")
    .attr("font-size", 15)
    .attr("textLength", 265).attr("lengthAdjust", "spacingAndGlyphs")
    .text("Deep learning - Lasso (Δ m.w.e.)")
})
</script>
</body>
</html>
